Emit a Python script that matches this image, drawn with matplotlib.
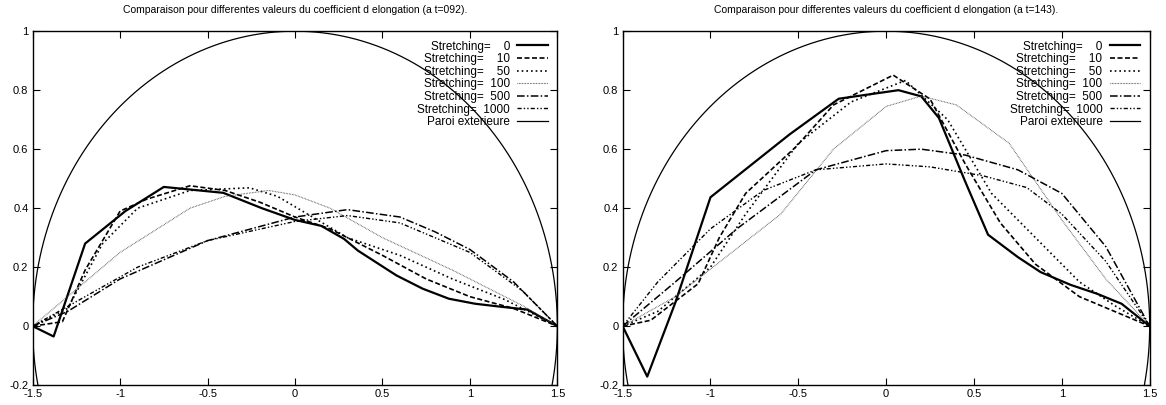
import matplotlib
matplotlib.use("Agg")
import matplotlib.pyplot as plt
import numpy as np

plt.rcParams['font.family'] = ['Liberation Sans', 'DejaVu Sans']

# t=092
x0_a = [-1.5, -1.38, -1.2, -0.97, -0.75, -0.41, -0.19, 0.0, 0.15, 0.28, 0.36, 0.58, 0.73, 0.88, 1.03, 1.16, 1.33, 1.5]
y0_a = [0.0, -0.035, 0.28, 0.39, 0.472, 0.452, 0.40, 0.36, 0.34, 0.296, 0.256, 0.172, 0.127, 0.093, 0.076, 0.067, 0.056, 0.0]
x10_a = [-1.5, -1.33, -1.2, -1.0, -0.85, -0.6, -0.4, -0.2, 0.0, 0.2, 0.5, 0.75, 1.0, 1.25, 1.5]
y10_a = [0.0, 0.015, 0.19, 0.39, 0.43, 0.476, 0.46, 0.42, 0.37, 0.33, 0.24, 0.16, 0.10, 0.06, 0.0]
x50_a = [-1.5, -1.3, -1.1, -0.9, -0.6, -0.26, -0.1, 0.1, 0.3, 0.6, 0.9, 1.2, 1.5]
y50_a = [0.0, 0.06, 0.28, 0.40, 0.46, 0.469, 0.44, 0.37, 0.30, 0.24, 0.16, 0.09, 0.0]
x100_a = [-1.5, -1.3, -1.0, -0.6, -0.4, -0.15, 0.0, 0.2, 0.5, 0.9, 1.3, 1.5]
y100_a = [0.0, 0.10, 0.25, 0.40, 0.44, 0.46, 0.445, 0.40, 0.30, 0.19, 0.07, 0.0]
x500_a = [-1.5, -1.3, -1.0, -0.5, 0.0, 0.3, 0.6, 0.8, 1.0, 1.25, 1.5]
y500_a = [0.0, 0.05, 0.16, 0.29, 0.37, 0.395, 0.37, 0.32, 0.26, 0.15, 0.0]
x1000_a = [-1.5, -1.2, -0.9, -0.5, 0.0, 0.3, 0.6, 1.0, 1.3, 1.5]
y1000_a = [0.0, 0.10, 0.20, 0.29, 0.355, 0.375, 0.35, 0.25, 0.12, 0.0]

# t=143
x0_b = [-1.5, -1.36, -1.2, -1.0, -0.55, -0.27, 0.07, 0.2, 0.3, 0.45, 0.58, 0.75, 0.88, 1.05, 1.2, 1.34, 1.5]
y0_b = [0.0, -0.171, 0.08, 0.437, 0.65, 0.771, 0.80, 0.779, 0.706, 0.49, 0.31, 0.234, 0.183, 0.14, 0.11, 0.076, 0.0]
x10_b = [-1.5, -1.34, -1.07, -0.95, -0.8, -0.51, -0.3, 0.04, 0.25, 0.45, 0.65, 0.85, 1.1, 1.3, 1.5]
y10_b = [0.0, 0.02, 0.144, 0.30, 0.45, 0.61, 0.75, 0.851, 0.77, 0.55, 0.35, 0.21, 0.10, 0.05, 0.0]
x50_b = [-1.5, -1.3, -1.0, -0.8, -0.5, -0.2, 0.11, 0.35, 0.6, 0.85, 1.1, 1.3, 1.5]
y50_b = [0.0, 0.05, 0.20, 0.38, 0.62, 0.76, 0.833, 0.70, 0.45, 0.30, 0.15, 0.07, 0.0]
x100_b = [-1.5, -1.2, -0.6, -0.3, 0.0, 0.2, 0.4, 0.7, 1.0, 1.25, 1.5]
y100_b = [0.0, 0.10, 0.38, 0.60, 0.745, 0.78, 0.75, 0.62, 0.36, 0.16, 0.0]
x500_b = [-1.5, -1.2, -0.85, -0.4, 0.0, 0.2, 0.45, 0.75, 1.0, 1.25, 1.5]
y500_b = [0.0, 0.15, 0.33, 0.53, 0.595, 0.60, 0.58, 0.53, 0.45, 0.27, 0.0]
x1000_b = [-1.5, -1.3, -1.0, -0.7, -0.4, 0.0, 0.25, 0.55, 0.8, 1.0, 1.25, 1.5]
y1000_b = [0.0, 0.15, 0.33, 0.46, 0.53, 0.55, 0.54, 0.51, 0.47, 0.38, 0.22, 0.0]

labels = ["Stretching=    0", "Stretching=    10", "Stretching=    50",
          "Stretching=  100", "Stretching=  500", "Stretching=  1000",
          "Paroi exterieure"]
titles = ["Comparaison pour differentes valeurs du coefficient d elongation (a t=092).",
          "Comparaison pour differentes valeurs du coefficient d elongation (a t=143)."]
xticks = [-1.5, -1, -0.5, 0, 0.5, 1, 1.5]
xticklabels = ["-1.5", "-1", "-0.5", "0", "0.5", "1", "1.5"]
yticks = [-0.2, 0, 0.2, 0.4, 0.6, 0.8, 1]
yticklabels = ["-0.2", "0", "0.2", "0.4", "0.6", "0.8", "1"]

# wall: ellipse with half-axes 1.5 and 1
a_wall, b_wall = 1.5, 1.0

styles = [
    dict(color='black', lw=1.6, ls='-'),
    dict(color='black', lw=1.2, ls=(0, (3, 1.5))),
    dict(color='black', lw=1.2, ls=(0, (1, 1.8))),
    dict(color='#444444', lw=0.8, ls=(0, (0.6, 0.8))),
    dict(color='black', lw=1.1, ls=(0, (5, 1.5, 1, 1.5))),
    dict(color='black', lw=1.0, ls=(0, (3, 1.5, 1, 1.5, 1, 1.5))),
]


def draw(ax, series, title):
    for (x, y), st, lab in zip(series, styles, labels):
        ax.plot(x, y, label=lab, **st)
    th = np.linspace(0, 2 * np.pi, 721)
    ax.plot(a_wall * np.cos(th), b_wall * np.sin(th), color='black', lw=0.9, label=labels[6])
    ax.set_xlim(-1.5, 1.5)
    ax.set_ylim(-0.2, 1)
    ax.set_xticks(xticks)
    ax.set_xticklabels(xticklabels)
    ax.set_yticks(yticks)
    ax.set_yticklabels(yticklabels)
    ax.tick_params(direction='in', top=True, right=True, labelsize=8, length=5, width=0.8, pad=3)
    for s in ax.spines.values():
        s.set_linewidth(1.0)
    ax.set_title(title, fontsize=7.5, pad=13)
    ax.legend(loc='upper right', frameon=False, markerfirst=False, fontsize=8.5,
              handlelength=2.6, labelspacing=0.05, handletextpad=0.6,
              borderaxespad=0.6, borderpad=0.2)


fig = plt.figure(figsize=(11.66, 4.05), dpi=100)
ax1 = fig.add_axes([0.028, 0.049, 0.450, 0.874])
ax2 = fig.add_axes([0.534, 0.049, 0.452, 0.874])

draw(ax1, [(x0_a, y0_a), (x10_a, y10_a), (x50_a, y50_a), (x100_a, y100_a),
           (x500_a, y500_a), (x1000_a, y1000_a)], titles[0])
draw(ax2, [(x0_b, y0_b), (x10_b, y10_b), (x50_b, y50_b), (x100_b, y100_b),
           (x500_b, y500_b), (x1000_b, y1000_b)], titles[1])

fig.savefig("out.png", dpi=100)
